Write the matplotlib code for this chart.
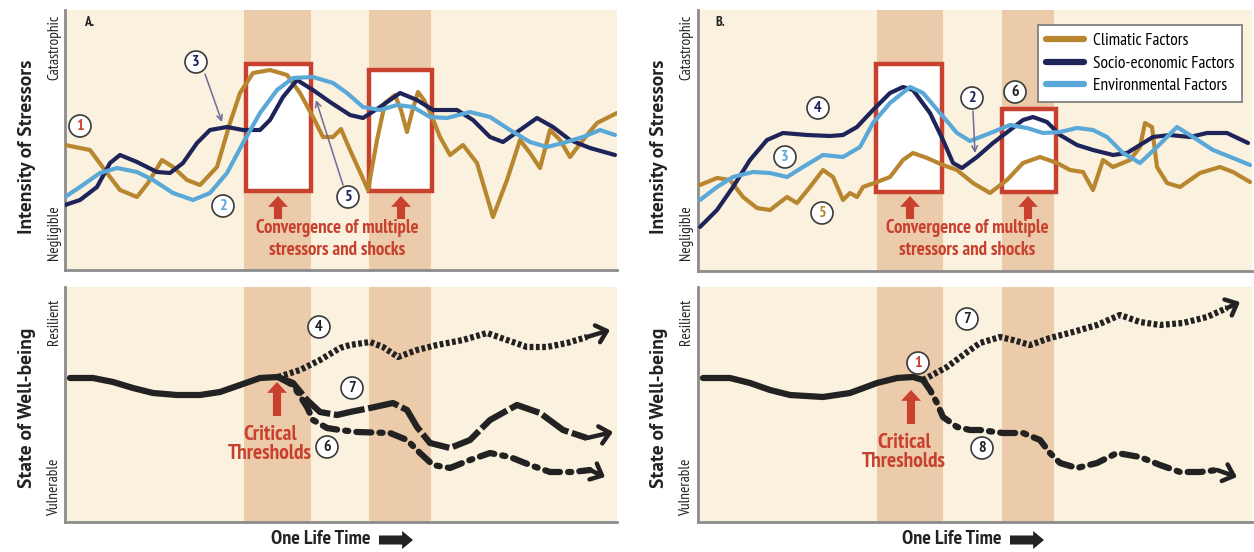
import matplotlib
matplotlib.use("Agg")
import matplotlib.pyplot as plt
from matplotlib.patches import Rectangle
from matplotlib import font_manager

W, H = 1254, 552

# colours
BG = "#FAF1DF"
BAND = "#EBCBA9"
RED = "#C8412E"
GOLD = "#B8862E"
NAVY = "#1E2459"
LBLUE = "#5AA8D8"
INK = "#222222"
SPINE = "#8C8C8C"

names = {f.name for f in font_manager.fontManager.ttflist}


def pick(prefs, default="DejaVu Sans"):
    for p in prefs:
        if p in names:
            return p
    return default


NARROW = pick(["PT Sans Narrow", "Fira Sans Condensed", "Roboto Condensed", "Asap Condensed",
               "Liberation Sans Narrow", "Encode Sans Condensed", "Archivo Narrow"])
WIDE = pick(["PT Sans", "Lato", "Open Sans"])

# ---- data (time / level in pixel units) ----
# panel A, stressors
a_clim_t = [65, 90, 107, 120, 137, 148, 162, 173, 187, 200, 217, 230, 240, 253, 270, 287, 300, 313, 323, 333,
            341, 350, 360, 368, 377, 385, 395, 401, 407, 412, 418, 424, 430, 440, 450, 463, 477, 493, 507, 520,
            530, 540, 550, 560, 570, 583, 597, 617]
a_clim_v = [145, 150, 173, 190, 197, 183, 160, 167, 180, 185, 167, 123, 93, 73, 70, 75, 93, 117, 137, 137,
            129, 150, 172, 190, 140, 103, 95, 110, 132, 112, 92, 100, 112, 137, 155, 145, 163, 217, 180, 140,
            153, 168, 130, 140, 157, 140, 123, 113]
a_socio_t = [65, 80, 97, 110, 120, 137, 157, 170, 183, 197, 210, 227, 243, 260, 270, 283, 297, 313, 330, 350,
             363, 380, 400, 417, 433, 457, 473, 490, 503, 520, 537, 553, 570, 590, 615]
a_socio_v = [205, 200, 187, 163, 155, 162, 172, 173, 163, 143, 130, 127, 130, 130, 120, 97, 80, 90, 102, 115,
             118, 107, 93, 100, 110, 110, 120, 137, 142, 130, 118, 127, 140, 148, 155]
a_env_t = [65, 80, 100, 117, 137, 153, 173, 193, 210, 227, 243, 260, 277, 293, 313, 333, 347, 363, 380, 397,
           413, 430, 447, 470, 490, 510, 530, 547, 563, 583, 600, 615]
a_env_v = [197, 187, 173, 168, 172, 180, 193, 200, 193, 173, 143, 113, 90, 78, 77, 83, 93, 107, 110, 105,
           107, 117, 118, 112, 117, 130, 142, 147, 143, 137, 130, 135]

# panel B, stressors
b_clim_t = [700, 717, 730, 743, 757, 770, 787, 797, 810, 823, 833, 843, 850, 857, 863, 877, 890, 903, 913, 927,
            943, 957, 973, 990, 1007, 1023, 1040, 1057, 1070, 1083, 1093, 1103, 1113, 1130, 1140, 1145, 1152,
            1157, 1167, 1180, 1200, 1220, 1233, 1250]
b_clim_v = [185, 178, 180, 197, 208, 210, 197, 203, 187, 170, 177, 200, 193, 197, 187, 182, 177, 160, 153, 158,
            165, 170, 183, 193, 180, 163, 157, 163, 170, 172, 190, 160, 167, 160, 147, 123, 127,
            167, 183, 187, 173, 167, 172, 182]
b_socio_t = [700, 717, 733, 750, 767, 783, 807, 830, 843, 857, 873, 890, 903, 913, 930, 943, 953, 962, 977, 993,
             1010, 1023, 1033, 1047, 1060, 1077, 1093, 1113, 1127, 1140, 1153, 1170, 1190, 1207, 1227, 1248]
b_socio_v = [227, 210, 187, 160, 140, 133, 135, 136, 135, 127, 110, 93, 87, 90, 113, 140, 163, 168, 157, 143,
             130, 120, 117, 122, 135, 145, 150, 155, 153, 145, 137, 135, 137, 133, 133, 143]
b_env_t = [700, 717, 733, 753, 770, 787, 803, 823, 843, 860, 873, 890, 910, 923, 940, 957, 970, 993, 1010,
           1027, 1043, 1060, 1077, 1093, 1107, 1123, 1140, 1157, 1177, 1193, 1213, 1233, 1250]
b_env_v = [200, 187, 177, 172, 173, 177, 167, 155, 157, 147, 123, 103, 87, 93, 113, 133, 141, 132, 125,
           128, 133, 132, 128, 130, 137, 153, 163, 147, 127, 137, 150, 158, 165]

# panel A, well-being
a_base_t = [70, 93, 113, 133, 153, 177, 200, 220, 240, 260, 278]
a_base_v = [378, 378, 382, 388, 393, 395, 395, 392, 385, 378, 377]
a_resil_t = [278, 300, 320, 340, 350, 370, 383, 398, 417, 437, 463, 487, 507, 527, 547, 567, 587, 610]
a_resil_v = [377, 370, 360, 348, 345, 342, 347, 357, 350, 345, 340, 333, 340, 347, 347, 343, 337, 330]
a_mid_t = [278, 293, 307, 320, 337, 350, 370, 393, 407, 417, 430, 450, 470, 490, 517, 540, 563, 587, 613]
a_mid_v = [377, 383, 400, 412, 415, 412, 408, 403, 410, 427, 443, 448, 440, 420, 405, 413, 430, 438, 432]
a_vuln_t = [278, 293, 307, 313, 327, 340, 357, 390, 407, 420, 433, 450, 470, 490, 510, 530, 550, 573, 590, 605]
a_vuln_v = [377, 385, 407, 420, 428, 430, 432, 433, 440, 453, 465, 468, 460, 453, 457, 465, 472, 472, 470, 477]

# panel B, well-being
b_base_t = [703, 730, 750, 770, 790, 823, 850, 877, 897, 913, 923]
b_base_v = [378, 378, 383, 390, 395, 397, 393, 383, 378, 377, 380]
b_resil_t = [923, 947, 970, 980, 1000, 1013, 1030, 1050, 1073, 1097, 1120, 1140, 1160, 1183, 1207, 1227, 1240]
b_resil_v = [380, 367, 350, 343, 337, 340, 345, 338, 332, 325, 315, 322, 325, 323, 317, 308, 302]
b_vuln_t = [923, 930, 937, 943, 957, 970, 980, 1003, 1023, 1040, 1050, 1060, 1077, 1097, 1117, 1140, 1160,
            1180, 1200, 1217, 1237]
b_vuln_v = [380, 390, 403, 417, 427, 430, 430, 433, 433, 440, 453, 463, 468, 463, 453, 457, 465, 472,
            472, 470, 477]

legend_labels = ["Climatic Factors", "Socio-economic Factors", "Environmental Factors"]

fig = plt.figure(figsize=(W / 100, H / 100), dpi=100)
fig.patch.set_facecolor("white")


def panel(l, t, r, b):
    ax = fig.add_axes([l / W, 1 - b / H, (r - l) / W, (b - t) / H])
    ax.set_xlim(l, r)
    ax.set_ylim(b, t)
    ax.set_facecolor(BG)
    ax.set_xticks([])
    ax.set_yticks([])
    for s in ["top", "right"]:
        ax.spines[s].set_visible(False)
    for s in ["left", "bottom"]:
        ax.spines[s].set_color(SPINE)
        ax.spines[s].set_linewidth(2)
    return ax


def circled(ax, x, y, s, color):
    ax.text(x, y, s, ha="center", va="center", fontsize=11.5, color=color, family=NARROW,
            fontweight="bold", zorder=8,
            bbox=dict(boxstyle="circle,pad=0.25", fc="white", ec="#3a3a3a", lw=1.2))


def red_arrow(ax, x, tip, base):
    ax.annotate("", xy=(x, tip), xytext=(x, base), zorder=6,
                arrowprops=dict(arrowstyle="simple,head_length=0.6,head_width=1.1,tail_width=0.45",
                                fc=RED, ec="none", mutation_scale=13, shrinkA=0, shrinkB=0))


def end_arrow(ax, t, v):
    ax.annotate("", xy=(t[-1], v[-1]), xytext=(t[-2], v[-2]), zorder=5,
                arrowprops=dict(arrowstyle="->,head_length=0.5,head_width=0.45", color=INK, lw=3.2,
                                mutation_scale=14, shrinkA=0, shrinkB=0))


top_a = panel(65, 10, 617, 270)
bot_a = panel(65, 287, 617, 522)
top_b = panel(698, 10, 1252, 271)
bot_b = panel(698, 287, 1252, 522)

bands_a = [(244, 311), (369, 431)]
bands_b = [(877, 943), (1002, 1054)]
for ax, bands in [(top_a, bands_a), (bot_a, bands_a), (top_b, bands_b), (bot_b, bands_b)]:
    for x0, x1 in bands:
        ax.axvspan(x0, x1, color=BAND, lw=0, zorder=0)

boxes_a = [(246, 64, 311, 191), (369, 70, 432, 191)]
boxes_b = [(876, 64, 942, 192), (1002, 109, 1056, 192)]
for ax, boxes in [(top_a, boxes_a), (top_b, boxes_b)]:
    for x0, y0, x1, y1 in boxes:
        ax.add_patch(Rectangle((x0, y0), x1 - x0, y1 - y0, fc="white", ec=RED, lw=3.2, zorder=1))

# stressor curves
for ax, ct, cv, st, sv, et, ev in [(top_a, a_clim_t, a_clim_v, a_socio_t, a_socio_v, a_env_t, a_env_v),
                                   (top_b, b_clim_t, b_clim_v, b_socio_t, b_socio_v, b_env_t, b_env_v)]:
    ax.plot(ct, cv, color=GOLD, lw=3, solid_joinstyle="round", solid_capstyle="round", zorder=3,
            label=legend_labels[0])
    ax.plot(st, sv, color=NAVY, lw=3, solid_joinstyle="round", solid_capstyle="round", zorder=3,
            label=legend_labels[1])
    ax.plot(et, ev, color=LBLUE, lw=3, solid_joinstyle="round", solid_capstyle="round", zorder=4,
            label=legend_labels[2])

# well-being curves
for ax, bt, bv, rt, rv, vt, vv in [(bot_a, a_base_t, a_base_v, a_resil_t, a_resil_v, a_vuln_t, a_vuln_v),
                                   (bot_b, b_base_t, b_base_v, b_resil_t, b_resil_v, b_vuln_t, b_vuln_v)]:
    ax.plot(bt, bv, color=INK, lw=4.5, solid_joinstyle="round", solid_capstyle="round", zorder=4)
    ax.plot(rt[:-1], rv[:-1], color=INK, lw=4.5, ls=(0, (0.6, 0.4)), zorder=4)
    end_arrow(ax, rt, rv)
    ax.plot(vt[:-1], vv[:-1], color=INK, lw=4.5, ls=(0, (2.4, 1.3, 0.5, 1.3)), dash_capstyle="round", zorder=4)
    end_arrow(ax, vt, vv)
bot_a.plot(a_mid_t[:-1], a_mid_v[:-1], color=INK, lw=4.5, ls=(0, (5, 0.6)), zorder=4)
end_arrow(bot_a, a_mid_t, a_mid_v)

# red arrows and captions
for ax, xs, cx in [(top_a, [278, 401], 337), (top_b, [910, 1028], 967)]:
    for x in xs:
        red_arrow(ax, x, 196, 219)
    ax.text(cx, 239, "Convergence of multiple\nstressors and shocks", ha="center", va="center",
            color=RED, fontsize=13.5, family=NARROW, fontweight="bold", linespacing=1.25, zorder=6)
for ax, x, y in [(bot_a, 277, 444), (bot_b, 911, 452)]:
    red_arrow(ax, x, y - 62, y - 28)
    ax.text(x - 7, y, "Critical\nThresholds", ha="center", va="center", color=RED, fontsize=15.5,
            family=NARROW, fontweight="bold", linespacing=1.05, zorder=6)

# numbered markers
circled(top_a, 80, 126, "1", RED)
circled(top_a, 196, 62, "3", NAVY)
circled(top_a, 223, 206, "2", LBLUE)
circled(top_a, 348, 197, "5", NAVY)
circled(top_b, 818, 108, "4", NAVY)
circled(top_b, 785, 157, "3", LBLUE)
circled(top_b, 822, 213, "5", GOLD)
circled(top_b, 972, 98, "2", NAVY)
circled(top_b, 1015, 92, "6", INK)
circled(bot_a, 319, 327, "4", INK)
circled(bot_a, 352, 388, "7", INK)
circled(bot_a, 327, 447, "6", INK)
circled(bot_b, 918, 363, "1", RED)
circled(bot_b, 967, 319, "7", INK)
circled(bot_b, 982, 448, "8", INK)

for ax, p0, p1 in [(top_a, (205, 74), (222, 122)), (top_a, (343, 185), (316, 100)),
                   (top_b, (973, 111), (975, 153))]:
    ax.annotate("", xy=p1, xytext=p0, zorder=7,
                arrowprops=dict(arrowstyle="->", color="#6E6C96", lw=1.1, shrinkA=0, shrinkB=0))

# legend
leg = top_b.legend(loc="upper right", bbox_to_anchor=(1242, 25), bbox_transform=top_b.transData,
                   frameon=True, fancybox=False, framealpha=1, edgecolor="#777777",
                   prop=dict(family=NARROW, size=12.5), handlelength=2.2, handletextpad=0.5,
                   labelspacing=0.38, borderpad=0.45, borderaxespad=0)
leg.get_frame().set_linewidth(1.2)
for ln in leg.get_lines():
    ln.set_linewidth(4.5)
leg.set_zorder(10)

# panel letters
top_a.text(84, 22, "A.", fontsize=10, fontweight="bold", family=NARROW, va="center", color=INK)
top_b.text(715, 22, "B.", fontsize=10, fontweight="bold", family=NARROW, va="center", color=INK)

# side labels
for ax, x0 in [(top_a, 0), (top_b, 632)]:
    ax.text(27 + x0, 147, "Intensity of Stressors", rotation=90, ha="center", va="center",
            fontsize=14, fontweight="bold", family=WIDE, color=INK)
    ax.text(54 + x0, 47, "Catastrophic", rotation=90, ha="center", va="center", fontsize=11,
            family=NARROW, color=INK)
    ax.text(54 + x0, 233, "Negligible", rotation=90, ha="center", va="center", fontsize=11,
            family=NARROW, color=INK)
for ax, x0 in [(bot_a, 0), (bot_b, 632)]:
    ax.text(27 + x0, 408, "State of Well-being", rotation=90, ha="center", va="center",
            fontsize=14, fontweight="bold", family=WIDE, color=INK)
    ax.text(54 + x0, 322, "Resilient", rotation=90, ha="center", va="center", fontsize=11,
            family=NARROW, color=INK)
    ax.text(54 + x0, 487, "Vulnerable", rotation=90, ha="center", va="center", fontsize=11,
            family=NARROW, color=INK)

# time axis captions
for ax, cx in [(bot_a, 321), (bot_b, 952)]:
    ax.text(cx, 539, "One Life Time", ha="center", va="center", fontsize=14.5, fontweight="bold",
            family=NARROW, color=INK)
    ax.annotate("", xy=(cx + 92, 540), xytext=(cx + 58, 540), annotation_clip=False,
                arrowprops=dict(arrowstyle="simple,head_length=0.6,head_width=1.0,tail_width=0.5",
                                fc=INK, ec="none", mutation_scale=13, shrinkA=0, shrinkB=0))

fig.savefig("out.png", dpi=100, facecolor="white")
